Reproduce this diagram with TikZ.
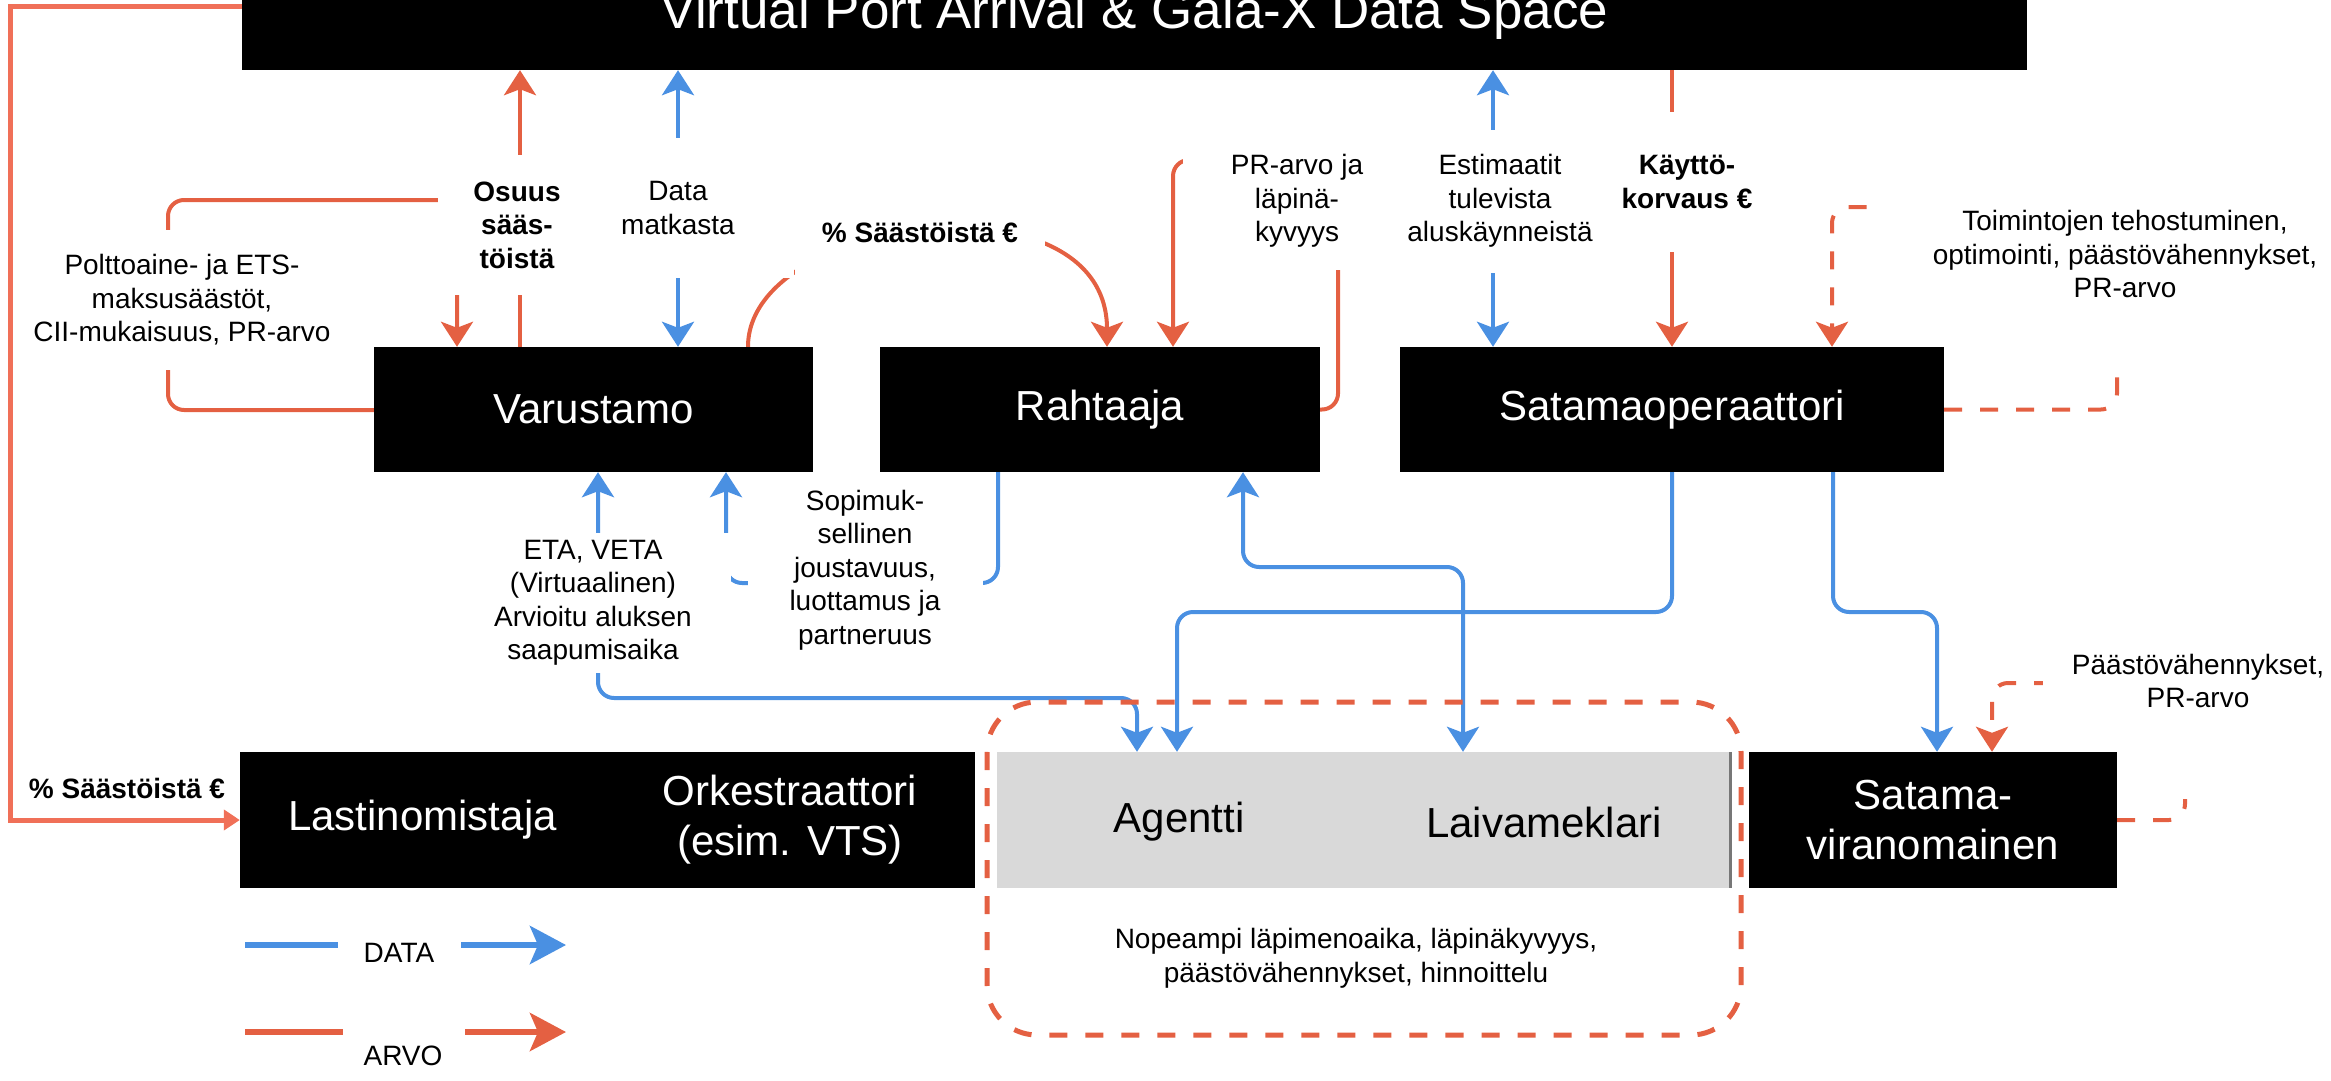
\documentclass[tikz,border=0pt]{standalone}
\usepackage{fontspec}
\setmainfont{Liberation Sans}
\usetikzlibrary{arrows.meta}
\definecolor{datablue}{RGB}{74,144,226}
\definecolor{arvored}{RGB}{228,96,66}
\definecolor{arvosalmon}{RGB}{240,112,88}
\definecolor{agentgray}{RGB}{217,217,217}
\newcommand\titlefont{\fontsize{53}{60}\selectfont}
\newcommand\boxfont{\fontsize{42}{50}\selectfont}
\newcommand\lblfont{\fontsize{28}{33.5}\selectfont}
\pgfdeclarelayer{front}
\pgfsetlayers{main,front}

\begin{document}
\begin{tikzpicture}[x=1pt, y=-1pt,
    >={Stealth[length=25pt, width=32pt, inset=6pt]},
    actor/.style={fill=black, text=white, font=\boxfont, align=center, inner sep=0pt, minimum height=125pt},
    lowactor/.style={actor, minimum height=136pt},
    lbl/.style={fill=white, font=\lblfont, align=center, inner sep=0pt},
    lblb/.style={lbl, font=\lblfont\bfseries},
    data/.style={draw=datablue, line width=4pt, rounded corners=16pt},
    arvo/.style={draw=arvored, line width=4pt, rounded corners=16pt},
    arvodash/.style={arvo, dash pattern=on 18pt off 18pt},
    legline/.style={line width=6pt},
    legtip/.style={-{Stealth[length=36pt, width=38pt, inset=8pt]}}]

    \useasboundingbox (0,0) rectangle (2331,1081);

    \begin{pgfonlayer}{front}
        \node[actor, minimum width=1785pt, minimum height=110pt, font=\titlefont] (vpa) at (1134.5,15) {Virtual Port Arrival \& Gaia-X Data Space};
        \node[actor, minimum width=439pt] (var) at (593.5,409.5) {Varustamo};
        \node[actor, minimum width=440pt] (raht) at (1100,409.5) {Rahtaaja};
        \node[actor, minimum width=544pt] (satop) at (1672,409.5) {Satamaoperaattori};
        \node[lowactor, minimum width=365pt] (last) at (422.5,820) {Lastinomistaja};
        \node[lowactor, minimum width=370pt] (ork) at (790,820) {Orkestraattori\\(esim. VTS)};
        \node[lowactor, minimum width=733pt, fill=agentgray] (agents) at (1363.5,820) {};
        \node[font=\boxfont] (agentti) at (1179,822) {Agentti};
        \node[font=\boxfont] (laiva) at (1544,822) {Laivameklari};
        \node[lowactor, minimum width=368pt] (satvir) at (1933,820) {Satama-\\viranomainen};
        \draw[agentgray!55!black, line width=3pt] (agents.north east) -- (agents.south east);
    \end{pgfonlayer}

    \draw[data,<->] (var.north -| 678,0) -- (vpa.south -| 678,0);
    \draw[data,<->] (satop.north -| 1493,0) -- (vpa.south -| 1493,0);
    \draw[data,<->] (var.south -| 598,0) -- (598,698) -| (agents.north -| 1137,0);
    \draw[data,->] (raht.south -| 998,0) |- (726,583) -- (var.south -| 726,0);
    \draw[data,<->] (raht.south -| 1243,0) |- (1463,567) -- (agents.north -| 1463,0);
    \draw[data,->] (satop.south) |- (1177,612) -- (agents.north -| 1177,0);
    \draw[data,->] (satop.south -| 1833,0) |- (1937,612) -- (satvir.north -| 1937,0);

    \draw[arvo,->] (var.north -| 520,0) -- (vpa.south -| 520,0);
    \draw[arvo,->] (var.west |- 0,410) -| (168,200) -| (var.north -| 457,0);
    \draw[arvo,->] (var.north -| 748,0) .. controls (748,215) and (1107,170) .. (raht.north -| 1107,0);
    \draw[arvo,->] (raht.east) -| (1338,160) -| (raht.north -| 1173,0);
    \draw[arvo,->] (vpa.south -| 1672,0) -- (satop.north);
    \draw[arvodash,->] (satop.east) -| (2117,207) -| (satop.north -| 1832,0);
    \draw[arvodash,->] (satvir.east) -| (2185,683) -| (satvir.north -| 1992,0);
    \draw[arvo, draw=arvosalmon, line width=5pt, sharp corners, -{Triangle[length=16pt, width=20pt]}] (vpa.west |- 0,7) -| (10,820) -- (last.west);
    \draw[arvodash, line width=5pt, rounded corners=50pt] (987,702) rectangle (1741,1035);

    \node[lbl, minimum width=320pt, minimum height=140pt] (polt) at (182,300) {Polttoaine- ja ETS-\\maksusäästöt,\\CII-mukaisuus, PR-arvo};
    \node[lblb, minimum width=158pt, minimum height=140pt] (osuus) at (517,225) {Osuus\\sääs-\\töistä};
    \node[lbl, minimum width=232pt, minimum height=140pt] (datam) at (678,208) {Data\\matkasta};
    \node[lblb, minimum width=250pt, minimum height=120pt] (pct) at (920,232) {\% Säästöistä €};
    \node[lbl, minimum width=228pt, minimum height=138pt] (prarvo) at (1297,201) {PR-arvo ja\\läpinä-\\kyvyys};
    \node[lbl, minimum width=200pt, minimum height=143pt] (estim) at (1500,201) {Estimaatit\\tulevista\\aluskäynneistä};
    \node[lblb, minimum width=180pt, minimum height=140pt] (kaytto) at (1687,182) {Käyttö-\\korvaus €};
    \node[lbl, minimum width=486pt, minimum height=218pt] (toim) at (2125,254) {Toimintojen tehostuminen,\\optimointi, päästövähennykset,\\PR-arvo};
    \node[lbl, minimum width=310pt, minimum height=236pt] (paasto) at (2198,681) {Päästövähennykset,\\PR-arvo};
    \node[lbl, minimum width=276pt, minimum height=140pt] (eta) at (593,603) {ETA, VETA\\(Virtuaalinen)\\Arvioitu aluksen\\saapumisaika};
    \node[lbl, minimum width=235pt, minimum height=180pt] (sopim) at (865,570) {Sopimuk-\\sellinen\\joustavuus,\\luottamus ja\\partneruus};
    \node[lblb, fill=none] (pctlast) at (127,788) {\% Säästöistä €};
    \node[lbl, fill=none] (nopea) at (1356,958) {Nopeampi läpimenoaika, läpinäkyvyys,\\päästövähennykset, hinnoittelu};

    \coordinate (dataA) at (245,945);
    \coordinate (dataB) at (338,945);
    \coordinate (dataC) at (461,945);
    \coordinate (dataD) at (566,945);
    \coordinate (arvoA) at (245,1032);
    \coordinate (arvoB) at (343,1032);
    \coordinate (arvoC) at (465,1032);
    \coordinate (arvoD) at (566,1032);
    \draw[legline, datablue] (dataA) -- (dataB);
    \draw[legline, datablue, legtip] (dataC) -- (dataD);
    \draw[legline, arvored] (arvoA) -- (arvoB);
    \draw[legline, arvored, legtip] (arvoC) -- (arvoD);
    \node[lbl, fill=none] (datakey) at (399,953) {DATA};
    \node[lbl, fill=none] (arvokey) at (403,1056) {ARVO};
\end{tikzpicture}
\end{document}
